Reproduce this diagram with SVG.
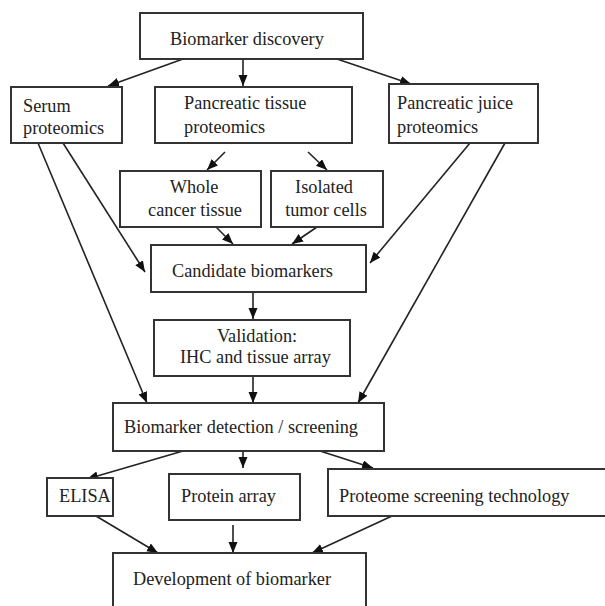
<svg xmlns="http://www.w3.org/2000/svg" width="605" height="606" viewBox="0 0 605 606">
<defs>
<style>
.box{fill:#fff;stroke:#333;stroke-width:2}
.t{font-family:"Liberation Serif","Times New Roman",serif;font-size:18.3px;fill:#222}
.m{text-anchor:middle}
.c{stroke:#222;stroke-width:1.6;fill:none;marker-end:url(#ah)}
</style>
<marker id="ah" markerUnits="userSpaceOnUse" markerWidth="12" markerHeight="10" refX="11" refY="4.5" orient="auto">
<path d="M0,0 L11,4.5 L0,9 z" fill="#111"/>
</marker>
</defs>
<rect width="605" height="606" fill="#fff"/>
<g id="connectors">
<line class="c" x1="183" y1="59" x2="108" y2="86"/>
<line class="c" x1="243" y1="59" x2="243" y2="86"/>
<line class="c" x1="337" y1="59" x2="411" y2="84"/>
<line class="c" x1="225" y1="152" x2="207" y2="170"/>
<line class="c" x1="308" y1="152" x2="327" y2="170"/>
<line class="c" x1="38" y1="143" x2="147" y2="403"/>
<line class="c" x1="63" y1="143" x2="145" y2="272"/>
<line class="c" x1="216" y1="227" x2="233" y2="244"/>
<line class="c" x1="317" y1="227" x2="292" y2="244"/>
<line class="c" x1="470" y1="143" x2="370" y2="263"/>
<line class="c" x1="505" y1="143" x2="358" y2="403"/>
<line class="c" x1="253" y1="292" x2="253" y2="319"/>
<line class="c" x1="253" y1="376" x2="253" y2="403"/>
<line class="c" x1="183" y1="451" x2="87" y2="479"/>
<line class="c" x1="243" y1="451" x2="243" y2="468"/>
<line class="c" x1="320" y1="451" x2="373" y2="468"/>
<line class="c" x1="96" y1="516" x2="158" y2="553"/>
<line class="c" x1="233" y1="525" x2="233" y2="553"/>
<line class="c" x1="392" y1="516" x2="312" y2="553"/>
</g>
<g id="discovery"><rect class="box" x="140" y="13" width="223" height="46"/><text class="t" x="170" y="45">Biomarker discovery</text></g>
<g id="serum"><rect class="box" x="11" y="87" width="111" height="56"/><text class="t" x="23" y="112">Serum</text><text class="t" x="23" y="134">proteomics</text></g>
<g id="tissue"><rect class="box" x="155" y="87" width="197" height="56"/><text class="t" x="184" y="109">Pancreatic tissue</text><text class="t" x="184" y="133">proteomics</text></g>
<g id="juice"><rect class="box" x="389" y="84" width="149" height="59"/><text class="t" x="397" y="109">Pancreatic juice</text><text class="t" x="397" y="133">proteomics</text></g>
<g id="whole"><rect class="box" x="120" y="171" width="141" height="56"/><text class="t m" x="194" y="193">Whole</text><text class="t m" x="195" y="216">cancer tissue</text></g>
<g id="isolated"><rect class="box" x="271" y="171" width="112" height="56"/><text class="t m" x="324" y="193">Isolated</text><text class="t m" x="326" y="216">tumor cells</text></g>
<g id="candidate"><rect class="box" x="151" y="245" width="215" height="47"/><text class="t" x="172" y="277">Candidate biomarkers</text></g>
<g id="validation"><rect class="box" x="154" y="320" width="196" height="56"/><text class="t m" x="257" y="342">Validation:</text><text class="t" x="180" y="363">IHC and tissue array</text></g>
<g id="detection"><rect class="box" x="113" y="403" width="271" height="48"/><text class="t" x="124" y="433">Biomarker detection / screening</text></g>
<g id="elisa"><rect class="box" x="47" y="478" width="66" height="38"/><text class="t" x="59" y="502">ELISA</text></g>
<g id="protein"><rect class="box" x="169" y="474" width="131" height="46"/><text class="t" x="181" y="502">Protein array</text></g>
<g id="proteome"><rect class="box" x="328" y="469" width="284" height="47"/><text class="t" x="339" y="502">Proteome screening technology</text></g>
<g id="development"><rect class="box" x="113" y="553" width="253" height="60"/><text class="t" x="133" y="585">Development of biomarker</text></g>
</svg>
